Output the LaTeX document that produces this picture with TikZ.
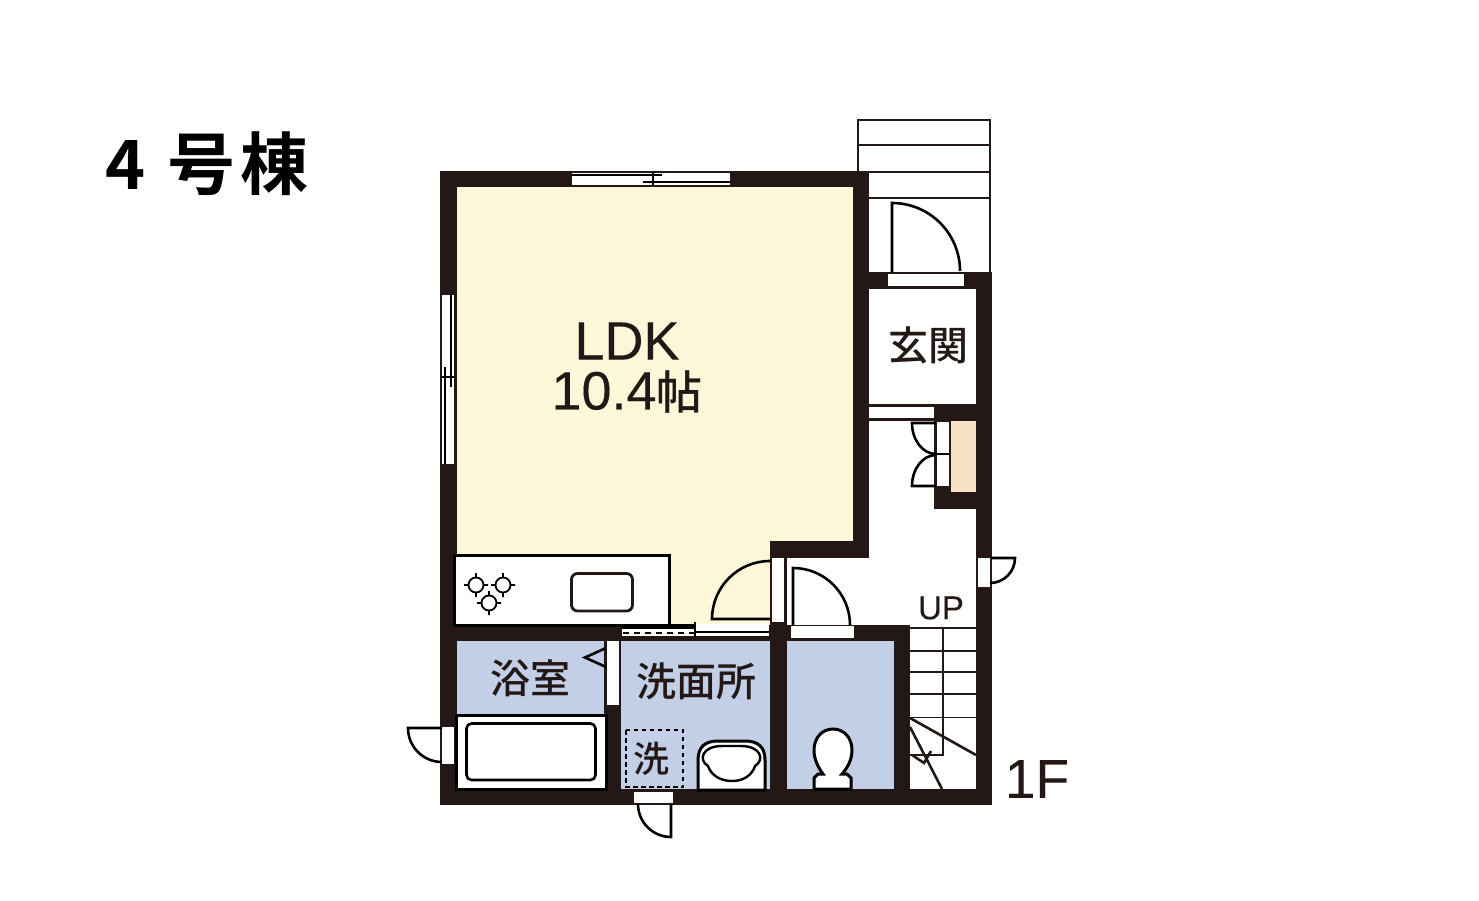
\documentclass[tikz,border=0pt]{standalone}
\usepackage{fontspec}
\setmainfont{Liberation Sans}[FakeBold=0.2]
\newfontfamily\cjk{Noto Sans CJK JP Medium}
\newfontfamily\cjkbold{Noto Sans CJK JP Bold}
\definecolor{wallcol}{HTML}{231815}
\definecolor{ldkcol}{HTML}{FDF6D8}
\definecolor{wetcol}{HTML}{C2CFE6}
\definecolor{storecol}{HTML}{F8E2C4}
\tikzset{
	wall/.style={fill=wallcol},
	opening/.style={fill=white},
	doorline/.style={draw=black,line width=2.6pt},
	fixture/.style={draw=black,fill=white,line width=3pt},
	thinline/.style={draw=wallcol,line width=2.6pt},
	sashline/.style={draw=black,line width=2pt},
	burnerline/.style={draw=black,line width=1.8pt},
	roomlabel/.style={inner sep=0pt,text=wallcol,font=\fontsize{40}{44}\selectfont\cjk},
	biglabel/.style={inner sep=0pt,text=wallcol,font=\fontsize{54}{58}\selectfont},
}
\begin{document}
\begin{tikzpicture}[x=1pt,y=-1pt]
	\useasboundingbox (0,0) rectangle (1479,901);
	\fill [white] (0,0) rectangle (1479,901);
	%Rooms
	\fill [ldkcol] (457,187) -- (853,187) -- (853,541) -- (770,541) -- (770,625) -- (457,625) -- cycle;
	\fill [wetcol] (457,641) rectangle (604,714);
	\fill [wetcol] (621,641) rectangle (770,789);
	\fill [wetcol] (787,641) rectangle (894,789);
	\fill [storecol] (951,421) rectangle (976,492);
	%Steps outside
	\draw [thinline] (858,171) -- (858,120) -- (990,120) -- (990,272);
	\draw [thinline] (858,145) -- (990,145);
	\draw [thinline] (869,172) -- (990,172);
	\draw [thinline] (869,198) -- (990,198);
	%Walls
	\fill [wall] (440,171) rectangle (869,187);
	\fill [wall] (440,171) rectangle (457,805);
	\fill [wall] (853,171) rectangle (869,558);
	\fill [wall] (770,541) rectangle (869,558);
	\fill [wall] (770,541) rectangle (787,805);
	\fill [wall] (869,272) rectangle (992,289);
	\fill [wall] (976,272) rectangle (992,805);
	\fill [wall] (869,404) rectangle (976,421);
	\fill [wall] (934,404) rectangle (951,509);
	\fill [wall] (934,492) rectangle (976,509);
	\fill [wall] (440,625) rectangle (910,641);
	\fill [wall] (604,641) rectangle (621,805);
	\fill [wall] (894,625) rectangle (910,805);
	\fill [wall] (440,789) rectangle (992,805);
	%Windows
	\fill [opening] (572,173) rectangle (730,185);
	\draw [sashline] (572,175) -- (662,175);
	\draw [sashline] (643,182) -- (730,182);
	\draw [sashline] (653,172) -- (653,186);
	\fill [opening] (442,295) rectangle (454,464);
	\draw [sashline] (451,294) -- (451,387);
	\draw [sashline] (445,367) -- (445,464);
	\draw [sashline] (441,377) -- (455,377);
	\fill [opening] (869,407) rectangle (934,418);
	%Door openings
	\fill [opening] (888,274) rectangle (964,286);
	\fill [opening] (937,422) rectangle (949,486);
	\draw [sashline] (936,454) -- (950,454);
	\fill [opening] (978,558) rectangle (990,587);
	\fill [opening] (772,558) rectangle (784,622);
	\fill [opening] (791,626) rectangle (854,638);
	\fill [opening] (607,641) rectangle (619,705);
	\fill [opening] (442,727) rectangle (454,764);
	\fill [opening] (634,792) rectangle (673,803);
	%Sliding door
	\fill [opening] (696,624) rectangle (769,636);
	\fill [opening] (622,629) rectangle (695,636);
	\draw [sashline] (696,632) -- (769,632);
	\draw [sashline,dash pattern=on 6pt off 5pt] (623,632.5) -- (695,632.5);
	%Doors
	\draw [doorline] (892,272) -- (892,203) arc (-90:0:68) ;
	\draw [doorline] (793,625) -- (793,568) arc (-90:0:57) ;
	\draw [doorline] (771,619) -- (712,619) arc (180:270:58) ;
	\draw [doorline] (936,423) -- (912,423) arc [start angle=180,end angle=90,x radius=24,y radius=31] ;
	\draw [doorline] (936,486) -- (912,486) arc [start angle=180,end angle=270,x radius=24,y radius=31] ;
	\draw [doorline] (991,558) -- (1015,558) arc (0:90:25) ;
	\draw [doorline] (442,728) -- (408,728) arc (180:90:34) ;
	\draw [doorline] (671,805) -- (671,837) arc (90:180:33) ;
	%Kitchen
	\draw [fixture] (454.5,555) rectangle (669.5,625.5);
	\fill [black] (622,624) rectangle (695,629);
	\draw [sashline] (695,622) -- (695,637);
	\draw [draw=wallcol,line width=2.8pt,rounded corners=6pt] (571.5,573.5) rectangle (632.5,611);
	\draw [burnerline,shift={(476,585)}] (0,0) circle (7.5) (-12,0) -- (-7,0) (7,0) -- (12,0) (0,-12) -- (0,-7) (0,7) -- (0,12);
	\draw [burnerline,shift={(503,585)}] (0,0) circle (7.5) (-12,0) -- (-7,0) (7,0) -- (12,0) (0,-12) -- (0,-7) (0,7) -- (0,12);
	\draw [burnerline,shift={(489,603)}] (0,0) circle (7.5) (-12,0) -- (-7,0) (7,0) -- (12,0) (0,-12) -- (0,-7) (0,7) -- (0,12);
	%Bath
	\draw [fixture] (456,715) rectangle (606,789);
	\draw [draw=black,line width=2.6pt,rounded corners=5pt] (466.5,723.5) rectangle (595.5,780);
	\draw [doorline] (606,648) -- (585,657.5) -- (606,667);
	%Washroom
	\draw [draw=black,line width=2.4pt,dash pattern=on 4.5pt off 3.5pt] (626,730) rectangle (683,787);
	\draw [fixture] (698,790) -- (698,760) .. controls (698,747) and (705,741) .. (718,741) -- (745,741) .. controls (758,741) and (765,747) .. (765,760) -- (765,790) -- cycle;
	\draw [fixture,line width=2.4pt] (708,766) .. controls (698,760) and (702,746) .. (722,746) -- (741,746) .. controls (761,746) and (765,760) .. (755,766) .. controls (752,775) and (744,781) .. (732,781) .. controls (720,781) and (711,775) .. (708,766) -- cycle;
	%Toilet
	\draw [fixture] (814,789) -- (814,778) -- (818,774) -- (823,774) .. controls (817,766) and (814,758) .. (814,750) .. controls (814,738) and (822,729) .. (833,729) .. controls (844,729) and (852,738) .. (852,750) .. controls (852,758) and (849,766) .. (842,774) -- (847,774) -- (851,778) -- (851,789) -- cycle;
	%Stairs
	\draw [thinline] (910,628) -- (976,628);
	\draw [thinline] (910,651) -- (976,651);
	\draw [thinline] (910,672) -- (976,672);
	\draw [thinline] (910,694) -- (976,694);
	\draw [thinline,line width=1pt] (910,717) -- (976,717);
	\draw [thinline] (943,628) -- (943,755) -- (910,755);
	\draw [thinline] (910,718) -- (976,755);
	\draw [thinline] (910,727) -- (942,789);
	\draw [thinline] (912,755) -- (924,763) -- (931,751);
	%Labels
	\path (207,164) node [inner sep=0pt,text=black,font=\fontsize{68}{72}\selectfont\cjkbold] (title) {4 \kern7pt号\kern5pt棟};
	\path (627,341) node [biglabel] (ldk) {LDK};
	\path (627,392) node [biglabel] (ldkarea) {10.4{\cjk\fontsize{46}{50}\selectfont 帖}};
	\path (928,345) node [roomlabel] (entrance) {玄関};
	\path (530,678) node [roomlabel] (bathroom) {浴室};
	\path (696,681) node [roomlabel] (washroom) {洗面所};
	\path (651,759) node [roomlabel,font=\fontsize{36}{38}\selectfont\cjk] (washer) {洗};
	\path (941,608) node [inner sep=0pt,text=wallcol,font=\fontsize{33}{36}\selectfont] (up) {UP};
	\path (1037,779) node [biglabel,font=\fontsize{55}{58}\selectfont] (floor) {1F};
\end{tikzpicture}
\end{document}
